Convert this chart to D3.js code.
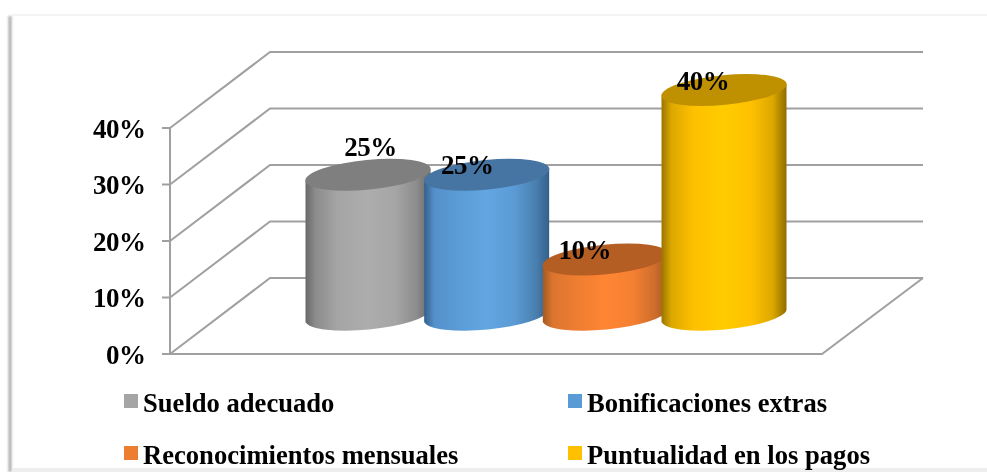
<!DOCTYPE html>
<html><head><meta charset="utf-8">
<script src="https://cdn.jsdelivr.net/npm/d3@7/dist/d3.min.js"></script>
<style>html,body{margin:0;padding:0;background:#fff;overflow:hidden}svg{display:block;filter:blur(.35px)}</style>
</head><body><div id="chart"></div>
<script>
const categories=["Sueldo adecuado","Bonificaciones extras","Reconocimientos mensuales","Puntualidad en los pagos"];
const values=[25,25,10,40];
const valueLabels=["25%","25%","10%","40%"];
const ticks=[0,10,20,30,40];
const sideStops=[
 ["#686868","#8c8c8c","#a5a5a5","#adadad","#a5a5a5","#8c8c8c","#686868"],
 ["#33608a","#5590cc","#5b9bd5","#62a6e2","#5b9bd5","#4a80b0","#33608a"],
 ["#a35a22","#dc7530","#ed7d31","#ff8533","#f58032","#cf6e2c","#a35a22"],
 ["#9a7500","#dca800","#ffc000","#ffcc00","#ffc000","#dca800","#8f6c00"]];
const stopOffsets=[0,.08,.26,.5,.72,.89,1];
const topColors=["#7f7f7f","#4675a3","#b55e24","#bf9000"];
const swatchColors=["#a5a5a5","#5b9bd5","#ed7d31","#ffc000"];
const W=987,H=472;
const y=d3.scaleLinear().domain([0,40]).range([354,128]);
const x=d3.scalePoint().domain(categories).range([368,724]);
const depthX=101,depthY=76,frontL=170,frontR=822;
const a=63,b=14.8,rot=-5.5,halfW=62.5,tan=6;
const baseV=y(0)-38;
const svg=d3.select("#chart").append("svg").attr("width",W).attr("height",H);
const defs=svg.append("defs");
const fs=defs.append("filter").attr("id","sh").attr("x","-100%").attr("y","-5%").attr("width","300%").attr("height","110%");
fs.append("feGaussianBlur").attr("stdDeviation",1.1);
svg.append("rect").attr("width",W).attr("height",H).attr("fill","#fff");
svg.append("rect").attr("x",8.5).attr("y",16).attr("width",3).attr("height",H-16).attr("fill","#aaaaaa").attr("filter","url(#sh)");
svg.append("line").attr("x1",10).attr("x2",W).attr("y1",15).attr("y2",15).attr("stroke","#f0f0f0").attr("stroke-width",1.5);
svg.append("rect").attr("x",12).attr("y",468).attr("width",W-12).attr("height",4).attr("fill","#eeeeee");
const g=svg.append("g").attr("fill","none").attr("stroke","#a0a0a0").attr("stroke-width",2);
ticks.forEach(t=>{
 const p=y(t);
 g.append("path").attr("d",`M${frontL},${p}L${frontL+depthX-1},${p-depthY}L${frontL+depthX-1+653},${p-depthY}`);
 g.append("line").attr("x1",162).attr("x2",frontL).attr("y1",p).attr("y2",p);
});
g.append("line").attr("x1",frontL).attr("x2",frontL).attr("y1",y(40)).attr("y2",y(0));
g.append("path").attr("d",`M${frontL},${y(0)}L${frontR},${y(0)}L${frontR+101},${y(0)-depthY}`);
const font='"Liberation Serif","Times New Roman",serif';
svg.append("g").selectAll("text").data(ticks).join("text")
 .attr("x",145.5).attr("y",d=>y(d)+9.5).attr("text-anchor","end")
 .attr("font-family",font).attr("font-weight","bold").attr("font-size",27).attr("letter-spacing",-.5).attr("fill","#000")
 .text(d=>d+"%");
categories.forEach((c,i)=>{
 const gr=defs.append("linearGradient").attr("id","g"+i);
 sideStops[i].forEach((s,k)=>gr.append("stop").attr("offset",stopOffsets[k]).attr("stop-color",s));
 const cx=x(c),topY=y(values[i])-38,bot=baseV;
 const el=svg.append("g");
 el.append("path").attr("fill",`url(#g${i})`)
  .attr("d",`M${cx-halfW},${topY+tan}L${cx-halfW},${bot+tan}A${a},${b} ${rot} 0 0 ${cx+halfW},${bot-tan}L${cx+halfW},${topY-tan}A${a},${b} ${rot} 0 1 ${cx-halfW},${topY+tan}Z`);
 el.append("ellipse").attr("rx",a).attr("ry",b)
  .attr("transform",`translate(${cx},${topY}) rotate(${rot})`).attr("fill",topColors[i]);
});
const labelOffsets=[[2.5,-18.5],[-19.5,-.5],[-20.5,-.5],[-21,-.5]];
svg.append("g").selectAll("text").data(categories).join("text")
 .attr("x",(d,i)=>x(d)+labelOffsets[i][0])
 .attr("y",(d,i)=>y(values[i])-38+labelOffsets[i][1])
 .attr("text-anchor","middle")
 .attr("font-family",font).attr("font-weight","bold").attr("font-size",27).attr("letter-spacing",-.5).attr("fill","#000")
 .text((d,i)=>valueLabels[i]);
const lx=[124,568],ly=[394,446];
const leg=svg.append("g").selectAll("g").data(categories).join("g")
 .attr("transform",(d,i)=>`translate(${lx[i%2]},${ly[Math.floor(i/2)]})`);
leg.append("rect").attr("width",14).attr("height",14).attr("fill",(d,i)=>swatchColors[i]);
leg.append("text").attr("x",19).attr("y",17.5)
 .attr("font-family",font).attr("font-weight","bold").attr("font-size",26.6).attr("fill","#000").text(d=>d);
</script></body></html>
